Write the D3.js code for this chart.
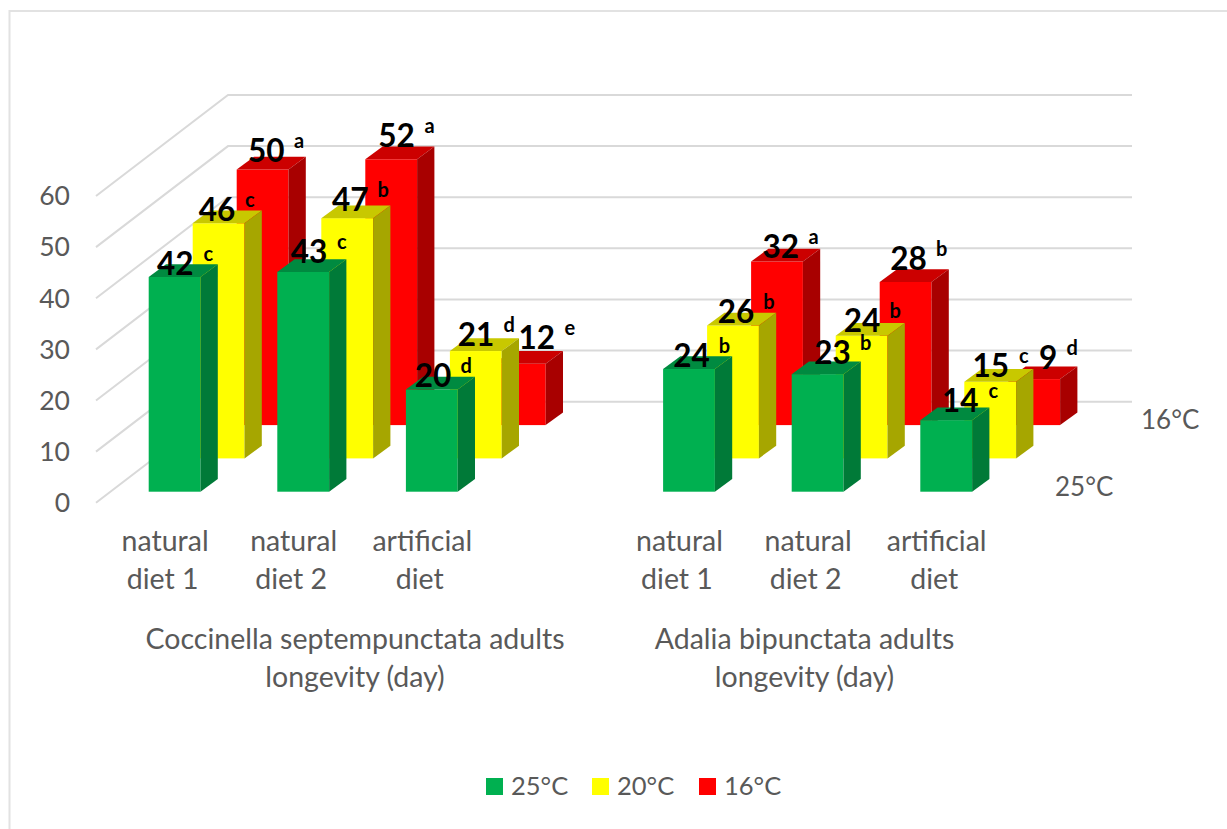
<!DOCTYPE html>
<html lang="en">
<head>
	<meta charset="utf-8">
	<title>Adults longevity</title>
	<script src="https://d3js.org/d3.v7.min.js"></script>
	<style type="text/css">
		html, body { margin: 0; background: #fff; }
		svg { display: block; }
		text { font-family: Lato, sans-serif; fill: #595959; }
		.value { font-weight: 700; fill: #000; font-size: 31.5px; }
		.letter { font-weight: 700; fill: #000; font-size: 20px; }
	</style>
</head>
<body>
	<svg id="chart" width="1227" height="829"></svg>

	<script type="text/javascript">

	// Data
	var categories = ["d1a", "d2a", "d3a", "gap", "d1b", "d2b", "d3b"]
	var series = ["16°C", "20°C", "25°C"]	// back to front
	var values16 = [50, 52, 12, null, 32, 28, 9]
	var values20 = [46, 47, 21, null, 26, 24, 15]
	var values25 = [42, 43, 20, null, 24, 23, 14]
	var letters16 = ["a", "a", "e", null, "a", "b", "d"]
	var letters20 = ["c", "b", "d", null, "b", "b", "c"]
	var letters25 = ["c", "c", "d", null, "b", "b", "c"]
	var yTicks = [0, 10, 20, 30, 40, 50, 60]
	var legendLabels = ["25°C", "20°C", "16°C"]
	var catLabels = [["natural", "diet 1"], ["natural", "diet 2"], ["artificial", "diet"], null,
		["natural", "diet 1"], ["natural", "diet 2"], ["artificial", "diet"]]
	var groupTitles = [["Coccinella septempunctata adults", "longevity (day)"], ["Adalia bipunctata adults", "longevity (day)"]]

	var faces = {
		"16°C": {front: "#ff0000", top: "#cc0000", side: "#a80000"},
		"20°C": {front: "#ffff00", top: "#c8c800", side: "#a6a600"},
		"25°C": {front: "#00b050", top: "#008a40", side: "#007a38"}
	}
	var valuesBySeries = {"16°C": values16, "20°C": values20, "25°C": values25}
	var lettersBySeries = {"16°C": letters16, "20°C": letters20, "25°C": letters25}

	// hand placed data labels in the original, [dx, dy] off the bar top
	var nudge = {
		"16°C": [[3.6,-8],[5.3,-12.6],[17,-15],null,[3.7,-4],[3,-12],[14,-10]],
		"20°C": [[-1.7,-2.3],[3,-7],[0.3,-5],null,[3,-2],[0.5,-4],[0.5,-5]],
		"25°C": [[0.6,-2],[5.7,-9],[1.3,-2.6],null,[2.4,-2.4],[15,-10],[14,-8.5]]
	}

	// oblique projection: x across, y up, z into the page
	var wallX = 228, wallBottom = 401.7, wallRight = 1132
	var deepX = 132, deepY = 101
	var barW = 51.8, barDx = 17.3, barDy = 12.7

	var x = d3.scalePoint().domain(categories).range([148.7, 920.3])
	var y = d3.scaleLinear().domain([0, 60]).range([0, 306.7])
	var z = d3.scaleOrdinal().domain(["25°C", "20°C", "16°C"]).range([0, 1, 2])

	function frontX(cat, s) { return x(cat) + z(s) * 44 }
	function baseY(s) { return 491.7 - z(s) * 33.3 }

	var svg = d3.select("#chart")

	// chart border, only the top and left edges survive in the picture
	svg.append("path")
		.attr("d", "M9.5,829V11H1227")
		.attr("fill", "none")
		.attr("stroke", "#e2e2e2")
		.attr("stroke-width", 2)

	// wall and side gridlines
	var grid = svg.append("g").attr("stroke", "#d9d9d9").attr("stroke-width", 2).attr("fill", "none")
	grid.selectAll("path")
		.data(yTicks)
		.enter()
		.append("path")
		.attr("d", d => {
			var wy = wallBottom - y(d)
			return d3.line()([[wallX - deepX, wy + deepY], [wallX, wy], [wallRight, wy]])
		})

	// y labels
	svg.append("g").selectAll("text")
		.data(yTicks)
		.enter()
		.append("text")
		.attr("x", 70)
		.attr("y", d => 512 - y(d))
		.attr("text-anchor", "end")
		.attr("font-size", 26.5)
		.text(d => d)

	// bars, back row first
	series.forEach(function(s) {
		var rows = categories.map((c, i) => ({cat: c, v: valuesBySeries[s][i]})).filter(d => d.v !== null)
		var g = svg.append("g").attr("class", "row")
		var bar = g.selectAll("g").data(rows).enter().append("g")

		bar.append("rect")
			.attr("x", d => frontX(d.cat, s))
			.attr("y", d => baseY(s) - y(d.v))
			.attr("width", barW)
			.attr("height", d => y(d.v))
			.attr("fill", faces[s].front)

		bar.append("path")
			.attr("fill", faces[s].top)
			.attr("d", d => {
				var l = frontX(d.cat, s), t = baseY(s) - y(d.v)
				return d3.line()([[l, t], [l + barW, t], [l + barW + barDx, t - barDy], [l + barDx, t - barDy]]) + "Z"
			})

		bar.append("path")
			.attr("fill", faces[s].side)
			.attr("d", d => {
				var r = frontX(d.cat, s) + barW, t = baseY(s) - y(d.v), b = baseY(s)
				return d3.line()([[r, t], [r + barDx, t - barDy], [r + barDx, b - barDy], [r, b]]) + "Z"
			})
	})

	// data labels go over all the bars
	series.forEach(function(s) {
		categories.forEach(function(c, i) {
			var v = valuesBySeries[s][i]
			if (v === null) return
			var cx = frontX(c, s) + barW / 2 + nudge[s][i][0]
			var by = baseY(s) - y(v) + nudge[s][i][1]
			svg.append("text").attr("class", "value")
				.attr("x", cx).attr("y", by)
				.attr("text-anchor", "middle")
				.text(v)
			svg.append("text").attr("class", "letter")
				.attr("x", cx + 15 + 9 * String(v).length).attr("y", by - 14)
				.attr("text-anchor", "middle")
				.text(lettersBySeries[s][i])
		})
	})

	// category labels
	var catG = svg.append("g").selectAll("g")
		.data(categories.map((c, i) => ({cat: c, lines: catLabels[i]})).filter(d => d.lines))
		.enter()
		.append("g")
	catG.selectAll("text")
		.data(d => d.lines.map((t, j) => ({t: t, j: j, cat: d.cat})))
		.enter()
		.append("text")
		.attr("x", d => x(d.cat) + barW / 2 - 9.5 - (d.j == 1 ? 2.5 : 0))
		.attr("y", d => 551 + d.j * 38)
		.attr("text-anchor", "middle")
		.attr("font-size", 28.5)
		.text(d => d.t)

	// group titles
	var titleX = [355, 804.5]
	groupTitles.forEach(function(lines, i) {
		lines.forEach(function(t, j) {
			svg.append("text")
				.attr("x", titleX[i]).attr("y", 649 + j * 38)
				.attr("text-anchor", "middle")
				.attr("font-size", 28.5)
				.text(t)
		})
	})

	// depth axis labels
	svg.append("text").attr("x", 1141).attr("y", 429).attr("font-size", 26).text("16°C")
	svg.append("text").attr("x", 1055).attr("y", 496).attr("font-size", 26).text("25°C")

	// legend
	var legendX = [486, 592, 699]
	var legendColor = [faces["25°C"].front, faces["20°C"].front, faces["16°C"].front]
	var legend = svg.append("g").selectAll("g").data(legendLabels).enter().append("g")
	legend.append("rect")
		.attr("x", (d, i) => legendX[i]).attr("y", 778)
		.attr("width", 17).attr("height", 17)
		.attr("fill", (d, i) => legendColor[i])
	legend.append("text")
		.attr("x", (d, i) => legendX[i] + 25).attr("y", 795)
		.attr("font-size", 25.5)
		.text(d => d)

	</script>
</body>
</html>
